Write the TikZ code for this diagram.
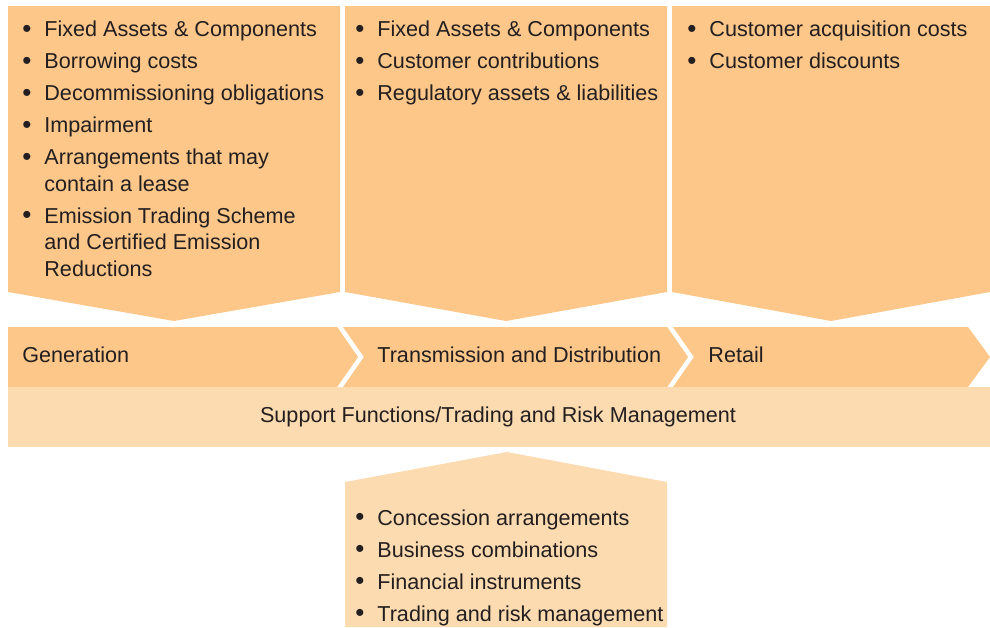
\documentclass[tikz,border=0pt]{standalone}
\usepackage{fontspec}
\setmainfont{Liberation Sans}
\usepackage{tikz}
\definecolor{chainorange}{RGB}{253,199,138}
\definecolor{supportorange}{RGB}{253,219,176}
\definecolor{labelgrey}{RGB}{35,31,32}
\tikzset{
  panel/.style={fill=chainorange},
  lightpanel/.style={fill=supportorange},
  items/.style={anchor=north west, inner sep=0pt, align=left, text=labelgrey,
                font=\fontsize{10.8}{13.3}\selectfont},
  stagelabel/.style={anchor=west, inner sep=0pt, text=labelgrey,
                font=\fontsize{10.8}{13.3}\selectfont},
  cut/.style={draw=white, line width=2.25pt, line join=miter},
}
\newcommand{\bul}{\makebox[11pt][l]{\raisebox{-0.3pt}{\scalebox{1.2}{\textbullet}}}}
\newcommand{\cont}{\hspace*{11pt}}

\begin{document}
\begin{tikzpicture}[x=0.5pt,y=-0.5pt]
  \useasboundingbox (0,0) rectangle (990,627);
  % issue panels pointing down onto the chain
  \foreach \l/\r in {8/340,345/667,672/990}
    \fill[panel] (\l,6) -- (\r,6) -- (\r,292) -- ({(\l+\r)/2},321) -- (\l,292) -- cycle;
  % value chain band with chevron cuts
  \fill[panel] (8,327) -- (968,327) -- (990,357) -- (968,387) -- (8,387) -- cycle;
  \foreach \x in {339.5,669.5}
    \draw[cut] (\x-3.6,321) -- (\x+21.5,357) -- (\x-3.6,393);
  % support band and the panel pointing up to it
  \fill[lightpanel] (8,387) rectangle (990,447);
  \fill[lightpanel] (345,627) -- (345,482) -- (507,452) -- (667,482) -- (667,627) -- cycle;

  \node[items] (genlist) at (22,20.5) {%
    \bul Fixed Assets \& Components\\[2.7pt]
    \bul Borrowing costs\\[2.7pt]
    \bul Decommissioning obligations\\[2.7pt]
    \bul Impairment\\[2.7pt]
    \bul Arrangements that may\\
    \cont contain a lease\\[2.7pt]
    \bul Emission Trading Scheme\\
    \cont and Certified Emission\\
    \cont Reductions};
  \node[items] (tdlist) at (355,20.5) {%
    \bul Fixed Assets \& Components\\[2.7pt]
    \bul Customer contributions\\[2.7pt]
    \bul Regulatory assets \& liabilities};
  \node[items] (retlist) at (687,20.5) {%
    \bul Customer acquisition costs\\[2.7pt]
    \bul Customer discounts};

  \node[stagelabel] (gen) at (22,355) {Generation};
  \node[stagelabel] (td) at (377,355) {Transmission and Distribution};
  \node[stagelabel] (ret) at (708,355) {Retail};
  \node[stagelabel, anchor=base] (support) at (498,422.7)
    {Support Functions/Trading and Risk Management};

  \node[items] (suplist) at (355,509) {%
    \bul Concession arrangements\\[2.7pt]
    \bul Business combinations\\[2.7pt]
    \bul Financial instruments\\[2.7pt]
    \bul Trading and risk management};
\end{tikzpicture}
\end{document}
